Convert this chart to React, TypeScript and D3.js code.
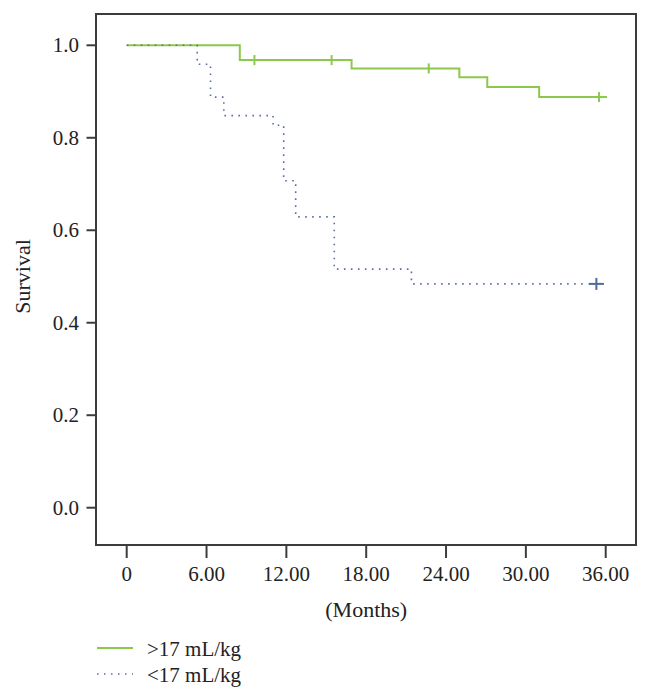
import React from "react";
import * as d3 from "d3";

const xTicks = [0, 6, 12, 18, 24, 30, 36];
const yTicks = [0, 0.2, 0.4, 0.6, 0.8, 1.0];

// >17 mL/kg (solid green)
const highTimes = [0, 8.5, 16.9, 25.0, 27.1, 31.0, 36.1];
const highSurv = [1.0, 0.968, 0.95, 0.931, 0.91, 0.888, 0.888];
const highCensor = [9.6, 15.4, 22.7, 35.5];

// <17 mL/kg (dotted blue)
const lowTimes = [0, 5.3, 6.3, 7.3, 11.0, 11.8, 12.7, 15.6, 21.4, 35.3];
const lowSurv = [1.0, 0.959, 0.888, 0.848, 0.827, 0.707, 0.629, 0.516, 0.484, 0.484];
const lowCensor = [35.3];

const legendLabels = [">17 mL/kg", "<17 mL/kg"];

const FONT = "'Liberation Serif', 'Times New Roman', serif";
const AXIS = "#3c3c3c";
const GREEN = "#8cc84b";
const BLUE = "#5b6f9e";

function stepAt(times: number[], surv: number[], t: number) {
  let s = surv[0];
  for (let i = 0; i < times.length; i++) if (times[i] <= t) s = surv[i];
  return s;
}

export default function App() {
  const x = d3.scaleLinear().domain([0, 36]).range([126.7, 605.7]);
  const y = d3.scaleLinear().domain([0, 1]).range([507.7, 45.3]);
  const box = { x0: 96, x1: 636, y0: 14, y1: 545 };

  const line = d3
    .line<[number, number]>()
    .x((d) => x(d[0]))
    .y((d) => y(d[1]))
    .curve(d3.curveStepAfter);

  const highPts = highTimes.map((t, i) => [t, highSurv[i]] as [number, number]);
  const lowPts = lowTimes.map((t, i) => [t, lowSurv[i]] as [number, number]);
  const fmtX = (v: number) => (v === 0 ? "0" : d3.format(".2f")(v));
  const fmtY = d3.format(".1f");

  return (
    <svg
      width={651}
      height={700}
      style={{ position: "absolute", left: 0, top: 0, background: "#fff" }}
      fontFamily={FONT}
    >
      <rect x={0} y={0} width={651} height={700} fill="#fff" />
      {/* plot box */}
      <rect
        x={box.x0}
        y={box.y0}
        width={box.x1 - box.x0}
        height={box.y1 - box.y0}
        fill="none"
        stroke={AXIS}
        strokeWidth={2}
      />
      {/* y axis ticks */}
      {yTicks.map((v) => (
        <g key={"y" + v}>
          <line x1={86.5} x2={box.x0} y1={y(v)} y2={y(v)} stroke={AXIS} strokeWidth={2} />
          <text x={79} y={y(v) + 7} textAnchor="end" fontSize={21} fill="#222">
            {fmtY(v)}
          </text>
        </g>
      ))}
      {/* x axis ticks */}
      {xTicks.map((v) => (
        <g key={"x" + v}>
          <line x1={x(v)} x2={x(v)} y1={box.y1} y2={558} stroke={AXIS} strokeWidth={2} />
          <text x={x(v)} y={581} textAnchor="middle" fontSize={21} fill="#222">
            {fmtX(v)}
          </text>
        </g>
      ))}
      <text x={x(18)} y={617} textAnchor="middle" fontSize={22} fill="#222">
        (Months)
      </text>
      <text
        transform={`translate(30,${(y(0) + y(1)) / 2}) rotate(-90)`}
        textAnchor="middle"
        fontSize={22}
        fill="#222"
      >
        Survival
      </text>

      {/* curves */}
      <path d={line(highPts) || ""} fill="none" stroke={GREEN} strokeWidth={2} />
      {highCensor.map((t) => (
        <line
          key={"hc" + t}
          x1={x(t)}
          x2={x(t)}
          y1={y(stepAt(highTimes, highSurv, t)) - 5}
          y2={y(stepAt(highTimes, highSurv, t)) + 5}
          stroke={GREEN}
          strokeWidth={2}
        />
      ))}
      <path
        d={line(lowPts.slice(0, lowPts.length - 1).concat([[lowCensor[0] - 0.6, lowSurv[lowSurv.length - 1]]])) || ""}
        fill="none"
        stroke={BLUE}
        strokeWidth={1.6}
        strokeDasharray="1.6 5.4"
      />
      {lowCensor.map((t) => {
        const cy = y(stepAt(lowTimes, lowSurv, t));
        return (
          <g key={"lc" + t}>
            <line x1={x(t) - 7.5} x2={x(t) + 7.5} y1={cy} y2={cy} stroke="#4d6a98" strokeWidth={2} />
            <line x1={x(t)} x2={x(t)} y1={cy - 6} y2={cy + 6} stroke="#4d6a98" strokeWidth={2} />
          </g>
        );
      })}

      {/* legend */}
      <line x1={97} x2={133} y1={648} y2={648} stroke={GREEN} strokeWidth={1.8} />
      <text x={147} y={656} fontSize={21} fill="#222">
        {legendLabels[0]}
      </text>
      <line x1={97} x2={133} y1={674} y2={674} stroke={BLUE} strokeWidth={1.5} strokeDasharray="1.5 5.5" />
      <text x={147} y={682} fontSize={21} fill="#222">
        {legendLabels[1]}
      </text>
    </svg>
  );
}
